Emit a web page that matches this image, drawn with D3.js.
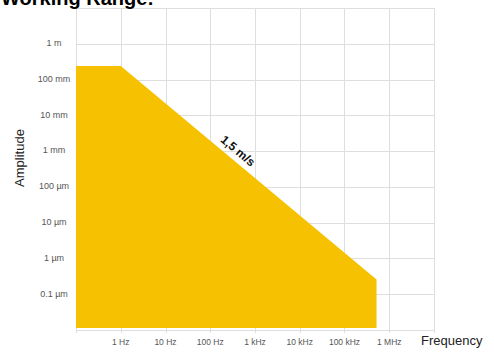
<!DOCTYPE html>
<html>
<head>
<meta charset="utf-8">
<script src="https://cdn.jsdelivr.net/npm/d3@7/dist/d3.min.js"></script>
<style>
  html, body { margin: 0; padding: 0; background: #fff; }
  svg { display: block; font-family: "Liberation Sans", Arial, sans-serif; }
</style>
</head>
<body>
<svg id="chart" width="494" height="353"></svg>
<script>
// ---- data ----
const title = "Working Range:";
const freqTicks = [1, 10, 100, 1e3, 1e4, 1e5, 1e6];
const freqLabels = ["1 Hz", "10 Hz", "100 Hz", "1 kHz", "10 kHz", "100 kHz", "1 MHz"];
const ampTicks = [1, 0.1, 0.01, 1e-3, 1e-4, 1e-5, 1e-6, 1e-7];
const ampLabels = ["1 m", "100 mm", "10 mm", "1 mm", "100 µm", "10 µm", "1 µm", "0.1 µm"];
const gridFreq = [0.1, 1, 10, 100, 1e3, 1e4, 1e5, 1e6, 1e7];
const gridAmp = [1e-8, 1e-7, 1e-6, 1e-5, 1e-4, 1e-3, 0.01, 0.1, 1, 10];
const rangeFreq = [0.1, 1, 520000];      // Hz
const rangeAmp = [0.24, 0.24, 2.6e-7];   // m
const velocityLabel = "1,5 m/s";
const velocityLabelFreq = 300;

// ---- layout ----
const svg = d3.select("#chart");
const x = d3.scaleLog().domain([0.1, 1e7]).range([76, 434]);
const y = d3.scaleLog().domain([1e-8, 10]).range([330, 8]);

// grid
const grid = svg.append("g").attr("stroke", "#dedede").attr("stroke-width", 1);
grid.selectAll("line.v").data(gridFreq).join("line")
  .attr("x1", d => Math.round(x(d)) + 0.5).attr("x2", d => Math.round(x(d)) + 0.5)
  .attr("y1", y.range()[1]).attr("y2", y.range()[0] + 3);
grid.selectAll("line.h").data(gridAmp).join("line")
  .attr("y1", d => Math.round(y(d)) + 0.5).attr("y2", d => Math.round(y(d)) + 0.5)
  .attr("x1", x.range()[0]).attr("x2", x.range()[1]);

// working-range area
const pts = rangeFreq.map((f, i) => [f, rangeAmp[i]]);
const area = d3.area()
  .x(d => x(d[0]))
  .y0(y(1e-8) - 2)
  .y1(d => y(d[1]));
svg.append("path").datum(pts).attr("d", area).attr("fill", "#F6C100");

// velocity label along slope
const p1 = [x(rangeFreq[1]), y(rangeAmp[1])];
const p2 = [x(rangeFreq[2]), y(rangeAmp[2])];
const ang = Math.atan2(p2[1] - p1[1], p2[0] - p1[0]);
const lx = x(velocityLabelFreq);
const ly = p1[1] + (lx - p1[0]) * Math.tan(ang);
const off = 9;
const tx = lx + off * Math.sin(ang), ty = ly - off * Math.cos(ang);
svg.append("text")
  .attr("transform", `translate(${tx},${ty}) rotate(${ang * 180 / Math.PI})`)
  .attr("text-anchor", "middle").attr("dominant-baseline", "middle")
  .attr("font-size", 12).attr("font-weight", "bold").attr("fill", "#111")
  .text(velocityLabel);

// y tick labels
svg.append("g").selectAll("text").data(ampTicks).join("text")
  .attr("x", 54).attr("y", d => y(d))
  .attr("text-anchor", "middle").attr("dominant-baseline", "middle")
  .attr("font-size", 9).attr("fill", "#555")
  .text((d, i) => ampLabels[i]);

// x tick labels
svg.append("g").selectAll("text").data(freqTicks).join("text")
  .attr("x", d => x(d)).attr("y", 343)
  .attr("text-anchor", "middle").attr("dominant-baseline", "middle")
  .attr("font-size", 8.5).attr("fill", "#555")
  .text((d, i) => freqLabels[i]);

// axis titles
svg.append("text").attr("x", 421).attr("y", 342)
  .attr("dominant-baseline", "middle")
  .attr("font-size", 13).attr("fill", "#222").text("Frequency");
svg.append("text")
  .attr("transform", "translate(21,158) rotate(-90)")
  .attr("text-anchor", "middle").attr("dominant-baseline", "middle")
  .attr("font-size", 13).attr("fill", "#222").text("Amplitude");

// title (partly cut at top, as in the reference)
svg.append("text").attr("x", 1).attr("y", 5)
  .attr("font-size", 20).attr("font-weight", "bold").attr("fill", "#000")
  .text(title);
</script>
</body>
</html>
